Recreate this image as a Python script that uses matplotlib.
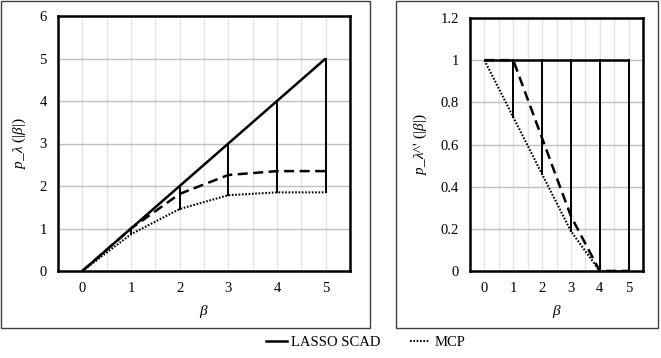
import matplotlib
matplotlib.use("Agg")
import matplotlib.pyplot as plt
from matplotlib.lines import Line2D
from matplotlib.patches import Rectangle

plt.rcParams['font.family'] = ['Liberation Serif', 'DejaVu Serif']
plt.rcParams['mathtext.fontset'] = 'custom'
plt.rcParams['mathtext.it'] = 'Liberation Serif:italic'
plt.rcParams['mathtext.rm'] = 'Liberation Serif'

beta = [0, 1, 2, 3, 4, 5]
lasso = [0, 1, 2, 3, 4, 5]
scad = [0, 1, 1.815, 2.259, 2.35, 2.35]
mcp = [0, 0.865, 1.459, 1.784, 1.85, 1.85]

lasso_d = [1, 1, 1, 1, 1, 1]
scad_d = [1, 1, 0.63, 0.26, 0, 0]
mcp_d = [1, 0.73, 0.459, 0.189, 0, 0]

left_yticks = [0, 1, 2, 3, 4, 5, 6]
right_yticks = [0, 0.2, 0.4, 0.6, 0.8, 1, 1.2]
right_yticklabels = ["0", "0.2", "0.4", "0.6", "0.8", "1", "1.2"]

fig = plt.figure(figsize=(6.61, 3.58), dpi=100)
W, H = 661, 358

def ax_rect(x0, y0, x1, y1):
    return [x0 / W, 1 - y1 / H, (x1 - x0) / W, (y1 - y0) / H]

# outer panel boxes
for (x0, y0, x1, y1) in [(1, 1, 370, 328), (396, 1, 658, 328)]:
    fig.patches.append(Rectangle((x0 / W, 1 - y1 / H), (x1 - x0) / W, (y1 - y0) / H,
                                 transform=fig.transFigure, fill=False,
                                 edgecolor='#404040', lw=1.0))

ax1 = fig.add_axes(ax_rect(58, 16, 350, 271))
ax2 = fig.add_axes(ax_rect(470, 18, 643, 271))

def style(ax, ymax, yticks, ylabels=None):
    ax.set_xlim(-0.5, 5.5)
    ax.set_ylim(0, ymax)
    ax.set_xticks(beta)
    ax.set_yticks(yticks)
    if ylabels is not None:
        ax.set_yticklabels(ylabels)
    for x in [i * 0.5 for i in range(0, 11)]:
        ax.axvline(x, color='#e4e4e4', lw=1.0, zorder=0)
    for y in yticks:
        ax.axhline(y, color='#c0c0c0', lw=1.0, zorder=0)
    for s in ax.spines.values():
        s.set_linewidth(1.8)
        s.set_color('black')
    ax.tick_params(length=0, labelsize=10.5, pad=8)
    ax.set_xlabel(r'$\beta$', fontsize=11, labelpad=6)

def draw(ax, a, b, c):
    ax.plot(beta, a, color='black', lw=1.8, solid_capstyle='butt', zorder=3)
    ax.plot(beta, b, color='black', lw=1.8, dashes=(4, 2.2), zorder=3)
    ax.plot(beta, c, color='black', lw=1.5, dashes=(0.8, 0.8), zorder=3)
    for x, hi, lo in zip(beta, a, c):
        top = max(hi, lo)
        bot = min(hi, lo)
        ax.plot([x, x], [bot, top], color='black', lw=1.4, zorder=3)

style(ax1, 6, left_yticks)
draw(ax1, lasso, scad, mcp)
ax1.set_ylabel(r'$p$_$\lambda$ (|$\beta$|)', fontsize=11, labelpad=8)

style(ax2, 1.2, right_yticks, right_yticklabels)
draw(ax2, lasso_d, scad_d, mcp_d)
ax2.set_ylabel(r"$p$_$\lambda$^' (|$\beta$|)", fontsize=11, labelpad=8)

handles = [Line2D([], [], color='black', lw=1.8),
           Line2D([], [], color='black', lw=1.5, dashes=(0.8, 0.8))]
fig.legend(handles, ['LASSO SCAD', 'MCP'], loc='center', bbox_to_anchor=(366 / W, 1 - 342 / H),
           ncol=2, frameon=False, fontsize=10.5, handlelength=1.4, handletextpad=0.3,
           columnspacing=2.0)

fig.savefig('out.png', dpi=100)
